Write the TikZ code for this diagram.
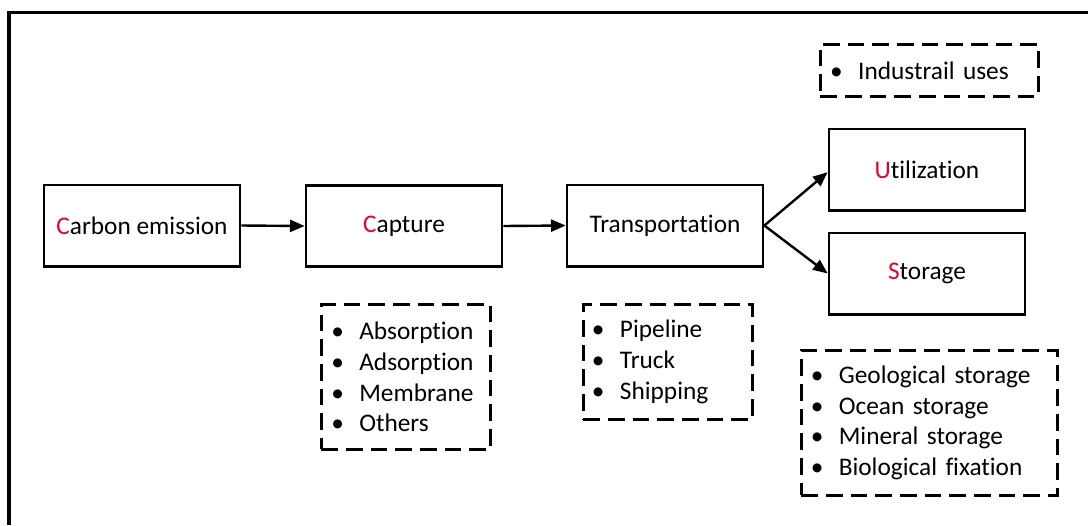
\documentclass[tikz,border=0pt]{standalone}
\usepackage{fontspec}
\setmainfont{Carlito}[Ligatures=NoCommon]
\usetikzlibrary{arrows.meta}
\definecolor{initred}{RGB}{232,0,40}
\newcommand{\ini}[1]{\textcolor{initred}{#1}}
\newcommand{\itm}[1]{\makebox[21pt][l]{\textbullet}#1\par}
\tikzset{
  stage/.style={draw, line width=2pt, minimum width=147pt, minimum height=61pt,
    inner sep=0pt, font=\fontsize{19}{23}\selectfont},
  listbox/.style={draw, line width=2.2pt, dash pattern=on 12.5pt off 6pt,
    anchor=north west, align=left, inner ysep=0pt,
    font=\fontsize{19}{23}\selectfont},
  flow/.style={line width=1.8pt, -{Triangle[length=11pt,width=9pt]}}
}
\begin{document}
\begin{tikzpicture}[x=0.75pt, y=-0.75pt]
\useasboundingbox (0,0) rectangle (1088,525);
% outer frame, open to the right and bottom
\coordinate (fbl) at (9,525);
\coordinate (ftl) at (9,12.5);
\coordinate (ftr) at (1088,12.5);
\draw[line width=2.4pt] (fbl) -- (ftl) -- (ftr);

% main process stages
\node[stage] (emit) at (142,225.5) {\ini{C}arbon emission};
\node[stage] (cap)  at (404,226)   {\ini{C}apture};
\node[stage] (trans) at (665,225.5) {Transportation};
\node[stage] (util) at (927,169.5) {\ini{U}tilization};
\node[stage] (stor) at (927,273.5) {\ini{S}torage};

% connectors
\draw[flow] (emit.east) -- (cap.west);
\draw[flow] (cap.east) -- (trans.west);
\draw[flow] (trans.east) -- ([yshift=-2pt]util.west);
\draw[flow] (trans.east) -- (stor.west);

% option lists
\node[listbox, inner xsep=7pt, text width=112pt, minimum width=126.75pt, minimum height=108.75pt]
  (caplist) at (320,303)
  {\itm{Absorption}\itm{Adsorption}\itm{Membrane}\itm{Others}};
\node[listbox, inner xsep=6pt, text width=114pt, minimum width=126.75pt, minimum height=86.25pt]
  (translist) at (582,303)
  {\itm{Pipeline}\itm{Truck}\itm{Shipping}};
\node[listbox, inner xsep=7pt, text width=178pt, minimum width=192pt, minimum height=108.75pt]
  (storlist) at (800,349)
  {\itm{Geological storage}\itm{Ocean storage}\itm{Mineral storage}\itm{Biological fixation}};
\node[listbox, inner xsep=7pt, text width=149pt, minimum width=163.5pt, minimum height=39pt]
  (utillist) at (819,43)
  {\itm{Industrail uses}};
\end{tikzpicture}
\end{document}
